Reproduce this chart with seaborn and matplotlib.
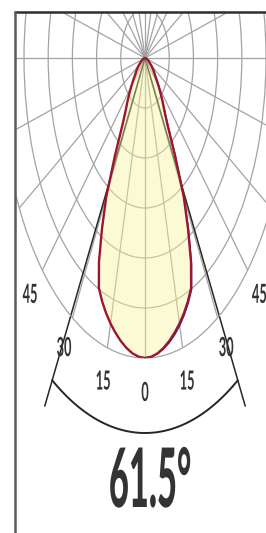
import numpy as np
import matplotlib
matplotlib.use('Agg')
import matplotlib.pyplot as plt
import matplotlib.patheffects as pe
from matplotlib.transforms import Affine2D
from matplotlib.patches import Rectangle
from matplotlib.lines import Line2D
import seaborn as sns

# luminous intensity per half-plane, angle from nadir (deg), in ring units (6 = peak)
beam_angles = [0, 2.5, 5, 7.5, 10, 12.5, 15, 17.5, 20, 22.5, 25, 27.5, 30,
               32.5, 35, 37.5, 40, 42.5, 45, 47.5, 50, 55, 60, 70, 80, 90]
c0_intensity = [6.0, 5.98, 5.93, 5.85, 5.75, 5.63, 5.5, 5.35, 5.18, 4.98, 4.5, 3.85, 3.2,
                2.3, 1.6, 1.3, 1.12, 0.95, 0.8, 0.66, 0.55, 0.42, 0.3, 0.14, 0.05, 0.0]
c90_intensity = [6.0, 5.98, 5.94, 5.87, 5.78, 5.67, 5.54, 5.39, 5.22, 5.02, 4.55, 3.9, 3.25,
                 2.34, 1.63, 1.32, 1.13, 0.96, 0.8, 0.66, 0.55, 0.42, 0.3, 0.14, 0.05, 0.0]
beam_angle = 61.5

label_angles = [-45, -30, -15, 0, 15, 30, 45]
label_text = ['45', '30', '15', '0', '15', '30', '45']
title_text = '61.5°'


class Squeeze(pe.AbstractPathEffect):
    # the source picture is squashed sideways, so the glyphs are too
    def __init__(self, factor):
        super().__init__()
        self.factor = factor

    def draw_path(self, renderer, gc, tpath, affine, rgbFace=None):
        box = tpath.get_extents(affine)
        mid = (box.x0 + box.x1) / 2
        squash = Affine2D().translate(-mid, 0).scale(self.factor, 1).translate(mid, 0)
        renderer.draw_path(gc, tpath, affine + squash, rgbFace)


sns.set_theme(style='white')
plt.rcParams['font.family'] = ['Lato', 'DejaVu Sans']

W, H = 266, 533
cx, cy = 145, 58      # pole in px
sx, sy = 24.2, 50     # px per ring, horizontal / vertical
grid_col = '#a3a3a3'
ink = '#333333'

fig = plt.figure(figsize=(W / 100, H / 100), dpi=100)
ax = fig.add_axes([(cx - 6 * sx) / W, (H - cy - 6 * sy) / H, 12 * sx / W, 12 * sy / H],
                  projection='polar')
ax.set_aspect('auto')
ax.set_facecolor('none')
ax.set_theta_zero_location('S')
ax.set_xticks(np.deg2rad(np.arange(0, 360, 15)))
ax.set_yticks([1, 2, 3, 4, 5])
ax.set_xticklabels([])
ax.set_yticklabels([])
ax.grid(True, color=grid_col, lw=0.9)
ax.spines['polar'].set_color(grid_col)
ax.spines['polar'].set_linewidth(0.9)

ang = np.deg2rad(beam_angles)
c0 = np.array(c0_intensity)
theta = np.concatenate([-ang[::-1], ang[1:]])
r_c0 = np.concatenate([c0[::-1], c0[1:]])

# beam angle lines + dimension arc
half = np.deg2rad(beam_angle / 2)
for side in (-1, 1):
    ax.plot([side * half, side * half], [0, 8.1], color='#262626', lw=1.1, clip_on=False, zorder=2)
arc = np.linspace(-half, half, 80)
ax.plot(arc, np.full_like(arc, 7.5), color='#262626', lw=1.4, clip_on=False, zorder=2)

ax.fill(theta, r_c0, color=(250 / 255, 245 / 255, 157 / 255), alpha=0.42, lw=0, zorder=3)
sns.lineplot(x=ang, y=c90_intensity, sort=False, estimator=None, color='#2b2f9e', lw=1.1,
             ax=ax, zorder=4)
sns.lineplot(x=theta, y=r_c0, sort=False, estimator=None, color='#9b1730', lw=1.7,
             ax=ax, zorder=5)
ax.set_ylim(0, 6)
ax.set_xlabel('')
ax.set_ylabel('')

for a, s in zip(label_angles, label_text):
    ax.text(np.deg2rad(a), 6.7, s, ha='center', va='center', fontsize=19, weight='bold',
            color=ink, clip_on=False, path_effects=[Squeeze(sx / sy)])

fig.text(150 / W, 1 - 507 / H, title_text, ha='center', va='baseline', fontsize=59,
         weight='black', color=ink, path_effects=[Squeeze(0.42)])

# frame: white out the grid beyond the box, then the two edges
fig.add_artist(Rectangle((0, 1 - 12 / H), 1, 12 / H, color='white', zorder=5))
fig.add_artist(Rectangle((0, 0), 15 / W, 1, color='white', zorder=5))
fig.add_artist(Line2D([15 / W, 1], [1 - 12 / H] * 2, color='#2e2e2e', lw=1.8, zorder=6))
fig.add_artist(Line2D([15 / W] * 2, [0, 1 - 12 / H], color='#5a5a5a', lw=1.8, zorder=6))

fig.savefig('out.png', dpi=100)
